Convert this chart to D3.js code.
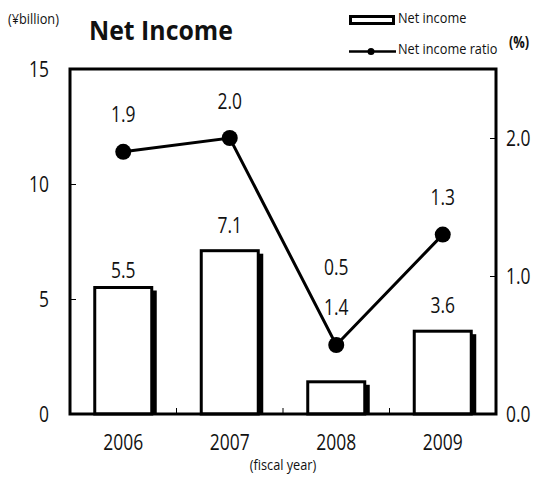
<!DOCTYPE html>
<html>
<head>
<meta charset="utf-8">
<script src="https://cdn.jsdelivr.net/npm/d3@7"></script>
<style>
  html, body { margin: 0; padding: 0; background: #fff; }
  svg { display: block; }
  text { font-family: "Open Sans", "Liberation Sans", sans-serif; fill: #111; }
</style>
</head>
<body>
<svg id="chart" width="539" height="477"></svg>
<script>
// Fiscal years and the two series
const years = ["2006", "2007", "2008", "2009"];
const netIncome = [5.5, 7.1, 1.4, 3.6];          // ¥billion
const netIncomeRatio = [1.9, 2.0, 0.5, 1.3];     // %
const leftTicks = [0, 5, 10, 15];
const rightTicks = [0.0, 1.0, 2.0];

// Label placement (pixels above the mark)
const barLabelLift = [15, 23, 72, 24];
const dotLabelLift = [35, 35, 76, 35];

const svg = d3.select("#chart");
const plot = { left: 70, right: 496, top: 69, bottom: 414 };

const x = d3.scaleBand().domain(years).range([plot.left, plot.right]).padding(0);
const yL = d3.scaleLinear().domain([0, 15]).range([plot.bottom, plot.top]);
const yR = d3.scaleLinear().domain([0, 2.5]).range([plot.bottom, plot.top]);

const barW = 57;
const cx = d => x(d) + x.bandwidth() / 2;
const NARROW = 0.83;   // horizontal squeeze for the condensed lettering

// Places a horizontally condensed text at (px, py)
function squeezed(sel, px, py, sx) {
  return sel.attr("x", 0).attr("y", 0)
    .attr("dominant-baseline", "middle")
    .attr("transform", (d, i) => `translate(${px(d, i)},${py(d, i)}) scale(${sx},1)`);
}

// Bars: black drop shadow, then white body with black outline
const bars = svg.append("g");
bars.selectAll("rect.shadow").data(years).join("rect")
  .attr("class", "shadow")
  .attr("x", d => cx(d) - barW / 2 + 5)
  .attr("y", (d, i) => yL(netIncome[i]) + 3)
  .attr("width", barW)
  .attr("height", (d, i) => yL(0) - yL(netIncome[i]) - 3)
  .attr("fill", "#000");
bars.selectAll("rect.bar").data(years).join("rect")
  .attr("class", "bar")
  .attr("x", d => cx(d) - barW / 2)
  .attr("y", (d, i) => yL(netIncome[i]))
  .attr("width", barW)
  .attr("height", (d, i) => yL(0) - yL(netIncome[i]))
  .attr("fill", "#fff")
  .attr("stroke", "#000")
  .attr("stroke-width", 3);

// Plot frame
svg.append("rect")
  .attr("x", plot.left).attr("y", plot.top)
  .attr("width", plot.right - plot.left).attr("height", plot.bottom - plot.top)
  .attr("fill", "none").attr("stroke", "#000").attr("stroke-width", 3);

// Left axis: inward ticks and labels
const leftAxis = d3.axisRight(yL).tickValues([5, 10]).tickSize(6).tickFormat("");
svg.append("g").attr("transform", `translate(${plot.left},0)`).call(leftAxis)
  .call(g => g.select(".domain").remove())
  .call(g => g.selectAll("line").attr("stroke", "#000"));
squeezed(svg.append("g").selectAll("text").data(leftTicks).join("text"),
    () => 49, d => yL(d) + 2, NARROW)
  .attr("text-anchor", "end").attr("font-size", 21)
  .text(d => d);

// Right axis: inward ticks and labels
const rightAxis = d3.axisLeft(yR).tickValues([1.0, 2.0]).tickSize(6).tickFormat("");
svg.append("g").attr("transform", `translate(${plot.right},0)`).call(rightAxis)
  .call(g => g.select(".domain").remove())
  .call(g => g.selectAll("line").attr("stroke", "#000"));
squeezed(svg.append("g").selectAll("text").data(rightTicks).join("text"),
    () => 506, d => yR(d) + 2, NARROW)
  .attr("text-anchor", "start").attr("font-size", 21)
  .text(d => d3.format(".1f")(d));

// Category separators on the bottom edge
svg.append("g").selectAll("line").data(years.slice(1)).join("line")
  .attr("x1", d => x(d)).attr("x2", d => x(d))
  .attr("y1", plot.bottom).attr("y2", plot.bottom - 6)
  .attr("stroke", "#000").attr("stroke-width", 1);

// Category labels
squeezed(svg.append("g").selectAll("text").data(years).join("text"),
    d => cx(d), () => 444, NARROW)
  .attr("text-anchor", "middle").attr("font-size", 21)
  .text(d => d);

// Ratio line and markers
const line = d3.line().x(d => cx(d)).y((d, i) => yR(netIncomeRatio[i]));
svg.append("path").datum(years).attr("d", line)
  .attr("fill", "none").attr("stroke", "#000").attr("stroke-width", 3);
svg.append("g").selectAll("circle").data(years).join("circle")
  .attr("cx", d => cx(d)).attr("cy", (d, i) => yR(netIncomeRatio[i]))
  .attr("r", 8).attr("fill", "#000");

// Value labels
squeezed(svg.append("g").selectAll("text").data(years).join("text"),
    d => cx(d), (d, i) => yL(netIncome[i]) - barLabelLift[i], NARROW)
  .attr("text-anchor", "middle").attr("font-size", 21)
  .text((d, i) => d3.format(".1f")(netIncome[i]));
squeezed(svg.append("g").selectAll("text").data(years).join("text"),
    d => cx(d), (d, i) => yR(netIncomeRatio[i]) - dotLabelLift[i], NARROW)
  .attr("text-anchor", "middle").attr("font-size", 21)
  .text((d, i) => d3.format(".1f")(netIncomeRatio[i]));

// Title and unit notes
squeezed(svg.append("text"), () => 89, () => 33, 0.92)
  .attr("font-size", 27).attr("font-weight", "bold")
  .text("Net Income");
squeezed(svg.append("text"), () => 8, () => 20, 0.85)
  .attr("font-size", 15)
  .text("(¥billion)");
squeezed(svg.append("text"), () => 509, () => 44, 0.8)
  .attr("font-size", 16).attr("font-weight", "bold")
  .text("(%)");
squeezed(svg.append("text"), () => 283, () => 466, 0.85)
  .attr("text-anchor", "middle").attr("font-size", 15)
  .text("(fiscal year)");

// Legend
const legend = svg.append("g");
legend.append("rect").attr("x", 350.5).attr("y", 16.5).attr("width", 43).attr("height", 7)
  .attr("fill", "#fff").attr("stroke", "#000").attr("stroke-width", 3);
squeezed(legend.append("text"), () => 398, () => 19, 0.85)
  .attr("font-size", 15)
  .text("Net income");
legend.append("line").attr("x1", 349).attr("x2", 396).attr("y1", 51.5).attr("y2", 51.5)
  .attr("stroke", "#000").attr("stroke-width", 2.5);
legend.append("circle").attr("cx", 371).attr("cy", 51.5).attr("r", 3.5).attr("fill", "#000");
squeezed(legend.append("text"), () => 398, () => 50, 0.85)
  .attr("font-size", 15)
  .text("Net income ratio");
</script>
</body>
</html>
